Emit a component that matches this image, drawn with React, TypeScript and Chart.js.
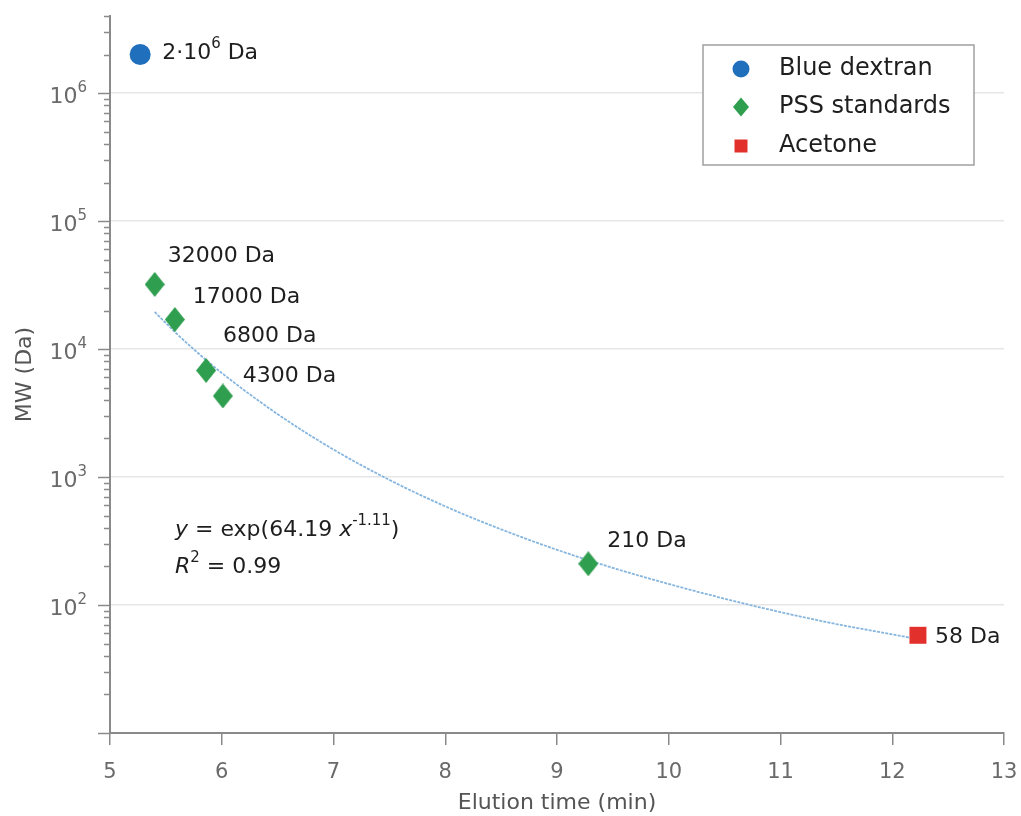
import React, { useEffect, useRef } from 'react';
import { Chart, registerables } from 'chart.js';

Chart.register(...registerables);

// ---- data ----
const seriesNames = ['Blue dextran', 'PSS standards', 'Acetone'];
const blueDextranTime = [5.27];
const blueDextranMW = [2000000];
const blueDextranLabels = ['2·10^{6} Da'];
const pssTime = [5.4, 5.58, 5.86, 6.01, 9.28];
const pssMW = [32000, 17000, 6800, 4300, 210];
const pssLabels = ['32000 Da', '17000 Da', '6800 Da', '4300 Da', '210 Da'];
const acetoneTime = [12.23];
const acetoneMW = [58];
const acetoneLabels = ['58 Da'];
// fitted curve
const fitTime = [5.4, 5.6, 5.8, 6, 6.5, 7, 7.5, 8, 8.5, 9, 9.5, 10, 10.5, 11, 11.5, 12, 12.23];
const fitMW = [19500, 13100, 9100, 6500, 3100, 1640, 950, 590, 390, 270, 195, 146, 112, 88, 71, 59, 54];
const equationText = '*y* = exp(64.19 *x*^{-1.11})';
const r2Text = '*R*^{2} = 0.99';
const xTickValues = [5, 6, 7, 8, 9, 10, 11, 12, 13];
const yMajorTicks = [100, 1000, 10000, 100000, 1000000];
const yTickLabels = ['10^{2}', '10^{3}', '10^{4}', '10^{5}', '10^{6}'];
const xTitle = 'Elution time (min)';
const yTitle = 'MW (Da)';

// ---- styles ----
const COLORS = { blue: '#1f6fbd', green: '#2f9e4f', red: '#e2312d', fit: '#86b6df', axis: '#8a8a8a', grid: '#e6e6e6', tick: '#6a6a6a', text: '#1e1e1e' };
const FONT = 'DejaVu Sans';
// label offsets (pixels) from the marker: [dx, dy]
const blueOffsets = [[22, -1]];
const pssOffsets = [[13, -28], [18, -22], [17, -34], [20, -20], [19, -22]];
const acetoneOffsets = [[17, 2]];

type Seg = { t: string; sup: boolean; it: boolean };
function parseRich(s: string): Seg[] {
  const segs: Seg[] = [];
  let it = false, sup = false, cur = '';
  const push = () => { if (cur) segs.push({ t: cur, sup, it }); cur = ''; };
  for (let i = 0; i < s.length; i++) {
    const c = s[i];
    if (c === '*') { push(); it = !it; }
    else if (c === '^' && s[i + 1] === '{') { push(); sup = true; i++; }
    else if (c === '}' && sup) { push(); sup = false; }
    else cur += c;
  }
  push();
  return segs;
}
function richWidth(ctx: CanvasRenderingContext2D, s: string, size: number, family: string) {
  ctx.save();
  let w = 0;
  for (const seg of parseRich(s)) {
    const fs = seg.sup ? size * 0.68 : size;
    ctx.font = `${seg.it ? 'italic ' : ''}${fs}px "${family}"`;
    w += ctx.measureText(seg.t).width;
  }
  ctx.restore();
  return w;
}
function drawRich(ctx: CanvasRenderingContext2D, s: string, x: number, y: number, size: number, family: string, color: string) {
  ctx.save();
  ctx.fillStyle = color;
  ctx.textBaseline = 'middle';
  ctx.textAlign = 'left';
  let cx = x;
  for (const seg of parseRich(s)) {
    const fs = seg.sup ? size * 0.68 : size;
    ctx.font = `${seg.it ? 'italic ' : ''}${fs}px "${family}"`;
    ctx.fillText(seg.t, cx, seg.sup ? y - size * 0.42 : y);
    cx += ctx.measureText(seg.t).width;
  }
  ctx.restore();
}
function makeDiamond(w: number, h: number, color: string) {
  const c = document.createElement('canvas');
  c.width = w; c.height = h;
  const g = c.getContext('2d')!;
  g.fillStyle = color;
  g.beginPath();
  g.moveTo(w / 2, 0); g.lineTo(w, h / 2); g.lineTo(w / 2, h); g.lineTo(0, h / 2);
  g.closePath(); g.fill();
  return c;
}

export default function App() {
  const ref = useRef<HTMLCanvasElement>(null);
  useEffect(() => {
    const canvas = ref.current!;
    const diamond = makeDiamond(20, 25, COLORS.green);

    const yAllTicks: number[] = [];
    for (let d = 10; d <= 1000000; d *= 10) {
      for (let m = 1; m <= 9; m++) { const v = m * d; if (v <= 4000000) yAllTicks.push(v); }
    }

    const annot = {
      id: 'annot',
      afterDraw(chart: any) {
        const ctx: CanvasRenderingContext2D = chart.ctx;
        const xs = chart.scales.x, ys = chart.scales.y;
        const area = chart.chartArea;
        // y-axis tick marks (major long, minor short) and labels
        ctx.save();
        ctx.strokeStyle = COLORS.axis;
        ctx.lineWidth = 1.5;
        for (const t of ys.ticks) {
          const py = Math.round(ys.getPixelForValue(t.value)) + 0.5;
          const len = yMajorTicks.includes(t.value) || t.value === 10 ? 12 : 6;
          ctx.beginPath(); ctx.moveTo(area.left - len, py); ctx.lineTo(area.left, py); ctx.stroke();
        }
        ctx.restore();
        yMajorTicks.forEach((v, i) => {
          const py = ys.getPixelForValue(v);
          const w = richWidth(ctx, yTickLabels[i], 22, FONT);
          drawRich(ctx, yTickLabels[i], area.left - 23 - w, py + 4, 22, FONT, COLORS.tick);
        });
        // point labels
        const groups: [number[], number[], string[], number[][]][] = [
          [blueDextranTime, blueDextranMW, blueDextranLabels, blueOffsets],
          [pssTime, pssMW, pssLabels, pssOffsets],
          [acetoneTime, acetoneMW, acetoneLabels, acetoneOffsets],
        ];
        for (const [tx, my, labs, offs] of groups) {
          tx.forEach((t, i) => {
            const px = xs.getPixelForValue(t), py = ys.getPixelForValue(my[i]);
            drawRich(ctx, labs[i], px + offs[i][0], py + offs[i][1], 22, FONT, COLORS.text);
          });
        }
        // equation
        drawRich(ctx, equationText, area.left + 65, area.top + 514, 22, FONT, COLORS.text);
        drawRich(ctx, r2Text, area.left + 65, area.top + 551, 22, FONT, COLORS.text);
        // legend
        const lw = 271, lh = 120;
        const lx = area.right - 30 - lw, ly = area.top + 29;
        ctx.save();
        ctx.fillStyle = '#ffffff';
        ctx.fillRect(lx, ly, lw, lh);
        ctx.strokeStyle = '#a0a0a0';
        ctx.lineWidth = 1.5;
        ctx.strokeRect(lx, ly, lw, lh);
        const mx = lx + 38, tx0 = lx + 76;
        const rows = [ly + 24, ly + 62, ly + 101];
        const ds = chart.data.datasets;
        for (let i = 0; i < 3; i++) {
          const cy = rows[i];
          ctx.fillStyle = ds[i].backgroundColor;
          if (i === 0) { ctx.beginPath(); ctx.arc(mx, cy, 8.5, 0, Math.PI * 2); ctx.fill(); }
          else if (i === 1) {
            ctx.beginPath(); ctx.moveTo(mx, cy - 9.5); ctx.lineTo(mx + 8, cy); ctx.lineTo(mx, cy + 9.5); ctx.lineTo(mx - 8, cy); ctx.closePath(); ctx.fill();
          } else { ctx.fillRect(mx - 6.5, cy - 6.5, 13, 13); }
          ctx.fillStyle = COLORS.text;
          ctx.font = `24px "${FONT}"`;
          ctx.textBaseline = 'middle';
          ctx.textAlign = 'left';
          ctx.fillText(ds[i].label, tx0, cy);
        }
        ctx.restore();
      },
    };

    const chart = new Chart(canvas, {
      type: 'scatter',
      data: {
        datasets: [
          {
            label: seriesNames[0],
            data: blueDextranTime.map((x, i) => ({ x, y: blueDextranMW[i] })),
            backgroundColor: COLORS.blue, borderWidth: 0, pointStyle: 'circle', pointRadius: 10.5, order: 1,
          },
          {
            label: seriesNames[1],
            data: pssTime.map((x, i) => ({ x, y: pssMW[i] })),
            backgroundColor: COLORS.green, borderWidth: 0, pointStyle: diamond as any, pointRadius: 10, order: 1,
          },
          {
            label: seriesNames[2],
            data: acetoneTime.map((x, i) => ({ x, y: acetoneMW[i] })),
            backgroundColor: COLORS.red, borderWidth: 0, pointStyle: 'rect', pointRadius: 12, order: 1,
          },
          {
            label: 'fit',
            type: 'line',
            data: fitTime.map((x, i) => ({ x, y: fitMW[i] })),
            borderColor: COLORS.fit, borderWidth: 1.8, borderDash: [3, 1.2], pointRadius: 0,
            cubicInterpolationMode: 'monotone', fill: false, order: 5,
          } as any,
        ],
      },
      options: {
        animation: false,
        responsive: true,
        maintainAspectRatio: false,
        layout: { padding: { top: 16, right: 17, left: 0, bottom: 0 } },
        plugins: { legend: { display: false }, tooltip: { enabled: false } },
        scales: {
          x: {
            type: 'linear', min: 5, max: 13,
            afterBuildTicks: (s: any) => { s.ticks = xTickValues.map((v) => ({ value: v })); },
            afterFit: (s: any) => { s.height = 83; s.paddingLeft = 0; s.paddingRight = 0; },
            grid: { display: true, drawOnChartArea: false, drawTicks: true, tickLength: 12, color: COLORS.axis, lineWidth: 1.5 },
            border: { display: true, color: COLORS.axis, width: 2 },
            ticks: { padding: 15, color: COLORS.tick, font: { family: FONT, size: 21 }, maxRotation: 0, autoSkip: false },
            title: { display: true, text: xTitle, color: '#555555', font: { family: FONT, size: 22 }, padding: { top: 0, bottom: 0 } },
          },
          y: {
            type: 'logarithmic', min: 10, max: 4000000,
            afterBuildTicks: (s: any) => { s.ticks = yAllTicks.map((v) => ({ value: v })); },
            afterFit: (s: any) => { s.width = 110; s.paddingTop = 0; s.paddingBottom = 0; },
            grid: {
              drawTicks: false,
              color: (c: any) => (c.tick && yMajorTicks.includes(c.tick.value) ? COLORS.grid : 'rgba(0,0,0,0)'),
              lineWidth: 1.5,
            },
            border: { display: true, color: COLORS.axis, width: 2 },
            ticks: { display: false, autoSkip: false },
            title: { display: true, text: yTitle, color: '#555555', font: { family: FONT, size: 22 }, padding: { top: 12, bottom: 0 } },
          },
        },
      } as any,
      plugins: [annot],
    });
    return () => chart.destroy();
  }, []);
  return (
    <div style={{ position: 'fixed', left: 0, top: 0, width: 1021, height: 816, background: '#ffffff' }}>
      <canvas ref={ref} />
    </div>
  );
}
